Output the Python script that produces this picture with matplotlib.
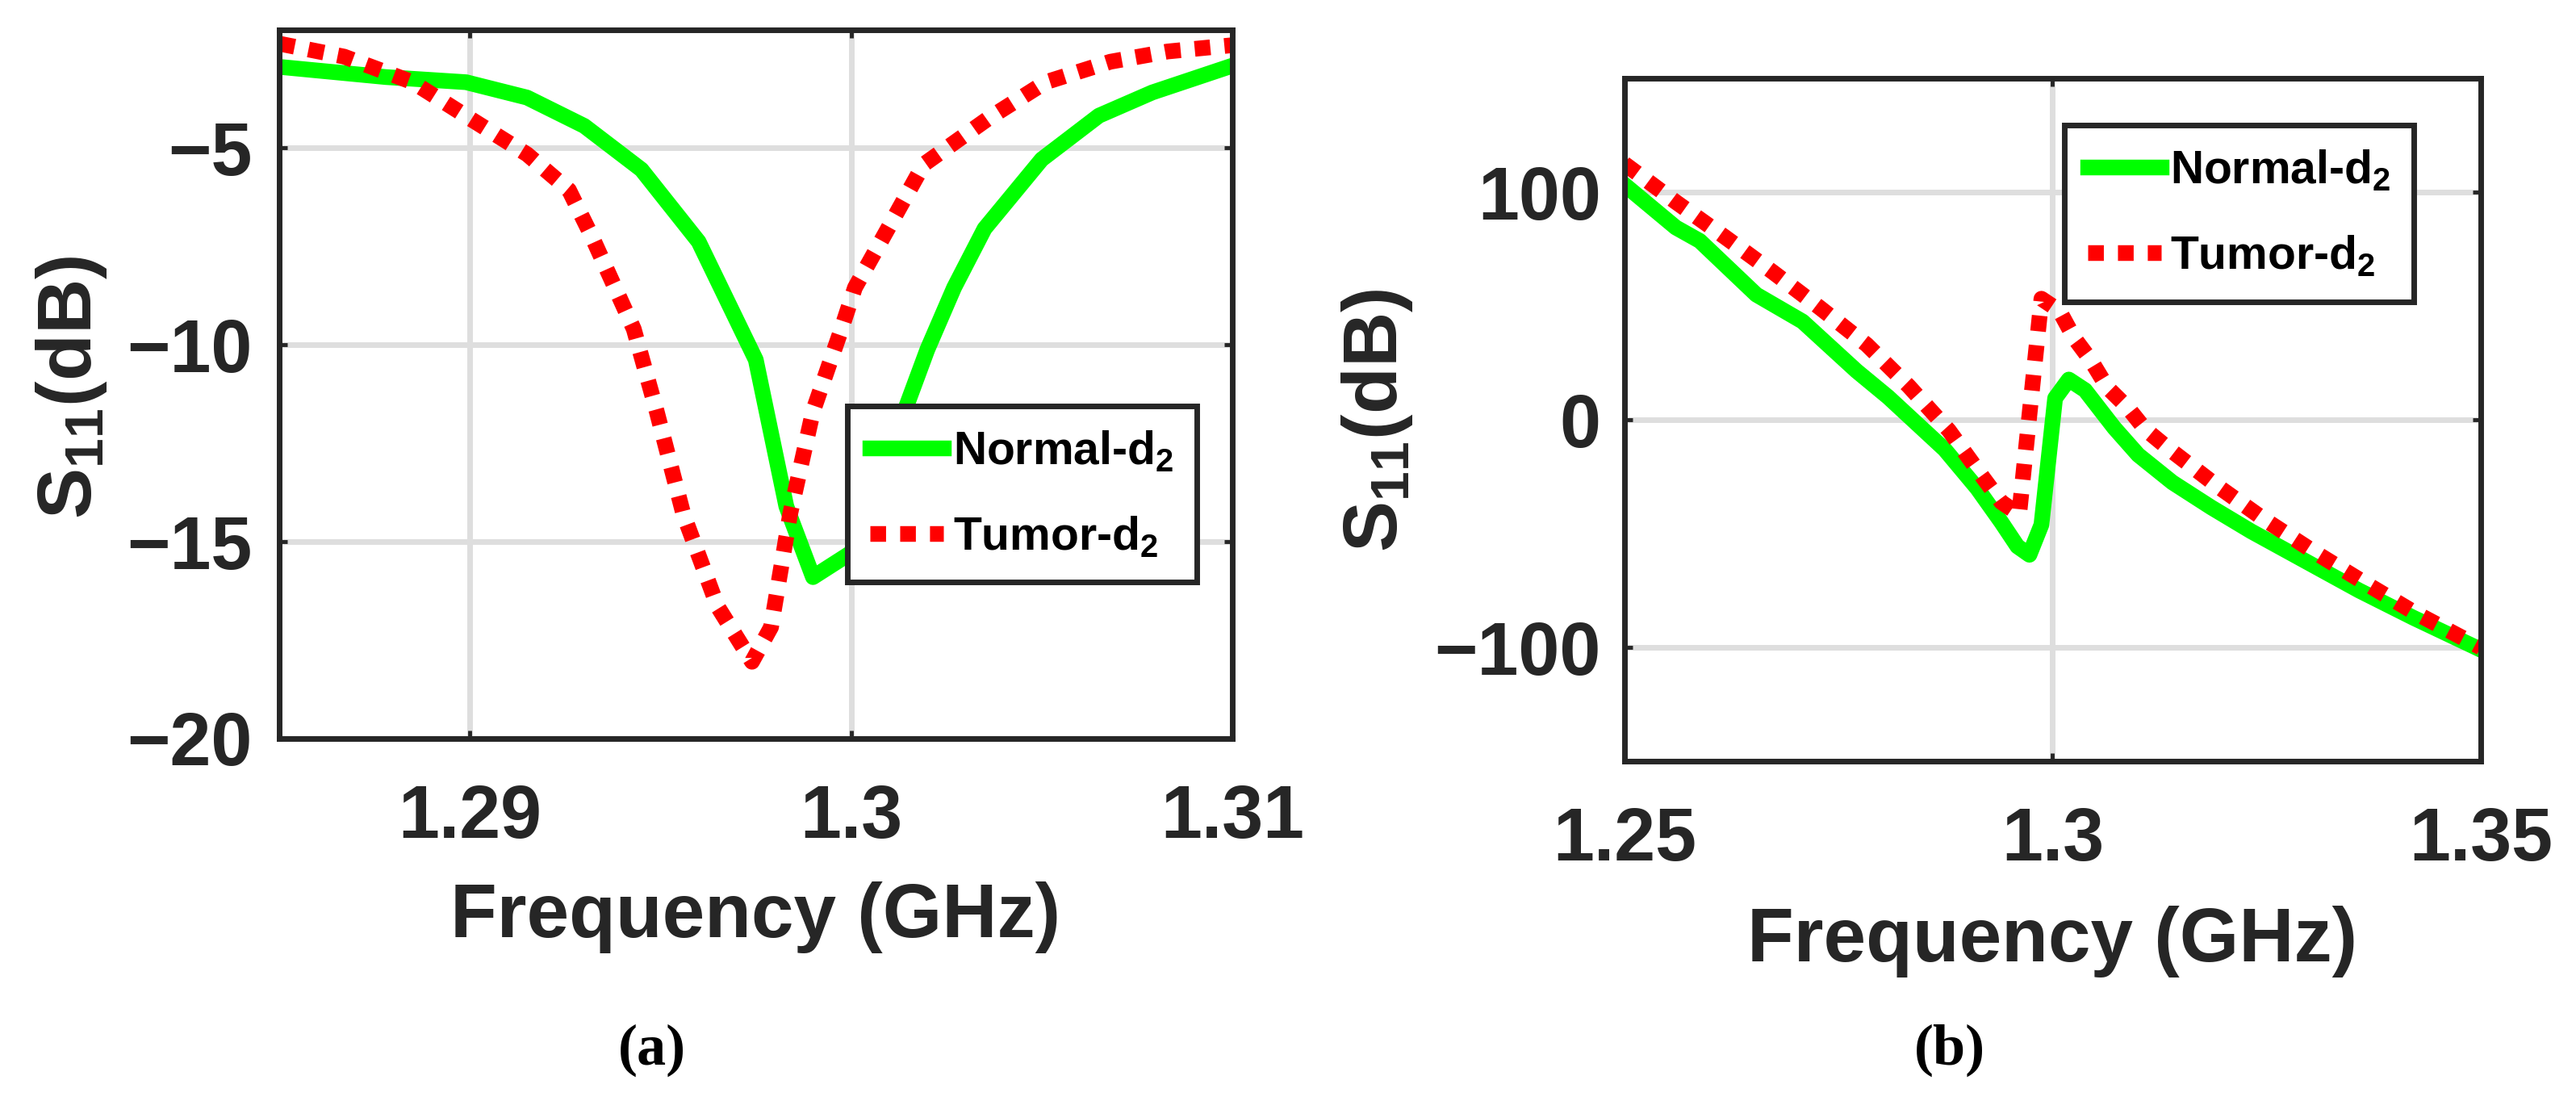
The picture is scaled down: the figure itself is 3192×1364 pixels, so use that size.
import matplotlib
matplotlib.use("Agg")
import matplotlib.pyplot as plt

# (a) zoom around the resonance
f_a_normal = [1.2850, 1.2878, 1.2899, 1.2915, 1.2930, 1.2945, 1.2960, 1.2975, 1.2983,
              1.2990, 1.3000, 1.3014, 1.3020, 1.3027, 1.3035, 1.3050, 1.3065, 1.3079, 1.3100]
s_a_normal = [-2.94, -3.20, -3.33, -3.72, -4.44, -5.55, -7.38, -10.38, -14.10,
              -15.90, -15.28, -11.69, -10.12, -8.55, -7.05, -5.29, -4.18, -3.59, -2.91]

f_a_tumor = [1.2850, 1.2867, 1.2885, 1.2900, 1.2915, 1.2926, 1.2932, 1.2943, 1.2949, 1.2956,
             1.2965, 1.2974, 1.2979, 1.2984, 1.2990, 1.2997, 1.3001, 1.3010, 1.3019, 1.3036,
             1.3051, 1.3068, 1.3083, 1.3100]
s_a_tumor = [-2.35, -2.68, -3.33, -4.25, -5.16, -6.07, -7.25, -9.60, -11.69, -14.30,
             -16.65, -18.05, -17.17, -14.30, -11.69, -9.73, -8.55, -6.99, -5.42, -4.25,
             -3.33, -2.81, -2.55, -2.39]

# (b) wide band
f_b_normal = [1.2500, 1.2560, 1.2588, 1.2654, 1.2708, 1.2771, 1.2808, 1.2874, 1.2912, 1.2940,
              1.2959, 1.2973, 1.2987, 1.3003, 1.3019, 1.3038, 1.3072, 1.3100, 1.3140, 1.3185,
              1.3232, 1.3295, 1.3358, 1.3421, 1.3500]
s_b_normal = [103.3, 84.5, 78.6, 55.0, 43.2, 21.5, 10.0, -13.0, -30.1, -44.9,
              -55.6, -59.3, -46.1, 9.5, 17.7, 13.0, -3.5, -15.4, -27.5, -38.4,
              -49.0, -62.0, -75.0, -86.9, -101.0]

f_b_tumor = [1.2500, 1.2560, 1.2617, 1.2673, 1.2728, 1.2783, 1.2832, 1.2879, 1.2920, 1.2940,
             1.2961, 1.2987, 1.3008, 1.3025, 1.3045, 1.3064, 1.3088, 1.3108, 1.3136, 1.3191,
             1.3247, 1.3305, 1.3364, 1.3422, 1.3500]
s_b_tumor = [112.5, 95.7, 80.4, 65.0, 49.3, 33.0, 14.8, -4.7, -26.0, -36.1,
             -41.5, 53.2, 47.9, 36.1, 26.0, 14.2, 5.3, -4.1, -12.8, -28.7,
             -43.7, -57.9, -71.5, -84.5, -100.0]

xticks_a = [1.29, 1.3, 1.31]
xticks_b = [1.25, 1.3, 1.35]
yticks_a = [-20, -15, -10, -5]
yticks_b = [-100, 0, 100]
legend_labels = ["Normal-d$_2$", "Tumor-d$_2$"]

plt.rcParams["font.family"] = ["Liberation Sans", "DejaVu Sans"]
plt.rcParams["font.weight"] = "bold"
plt.rcParams["axes.labelweight"] = "bold"
plt.rcParams["mathtext.fontset"] = "custom"
plt.rcParams["mathtext.rm"] = "Liberation Sans:bold"
plt.rcParams["mathtext.it"] = "Liberation Sans:bold"
plt.rcParams["mathtext.bf"] = "Liberation Sans:bold"

dark = "#262626"

fig = plt.figure(figsize=(31.92, 13.64), dpi=100)
ax_a = fig.add_axes([0.1084, 0.3292, 0.3700, 0.6437])
ax_b = fig.add_axes([0.6306, 0.3086, 0.3324, 0.6202])


def draw(ax, fn, sn, ft, st, leg_xy, ypad):
    ax.plot(fn, sn, color="#00ff00", linewidth=14, solid_joinstyle="round",
            label=legend_labels[0])
    ax.plot(ft, st, color="#ff0000", linewidth=14, linestyle=(0, (1, 0.9)),
            dash_capstyle="butt", label=legend_labels[1])
    ax.set_axisbelow(True)
    ax.grid(True, color="#dedede", linewidth=5)
    for sp in ax.spines.values():
        sp.set_linewidth(5)
        sp.set_color(dark)
    ax.tick_params(axis="both", direction="in", length=7, width=3.5, top=True, right=True,
                   color=dark, labelcolor=dark, labelsize=66)
    ax.tick_params(axis="x", pad=40)
    ax.tick_params(axis="y", pad=ypad)
    leg = ax.legend(loc="upper left", bbox_to_anchor=leg_xy, borderaxespad=0,
                    fancybox=False, framealpha=1, fontsize=41, handlelength=1.6,
                    handletextpad=0.2, borderpad=0.5, labelspacing=0.9)
    leg.get_frame().set_linewidth(5)
    leg.get_frame().set_edgecolor(dark)
    for t in leg.get_texts():
        t.set_color("black")


draw(ax_a, f_a_normal, s_a_normal, f_a_tumor, s_a_tumor, (0.596, 0.469), 24)
ax_a.set_xlim(1.285, 1.31)
ax_a.set_ylim(-20, -2)
ax_a.set_xticks(xticks_a)
ax_a.set_xticklabels(["1.29", "1.3", "1.31"])
ax_a.set_yticks(yticks_a)
ax_a.set_xlabel("Frequency (GHz)", fontsize=68, fontweight="bold", color=dark)
ax_a.xaxis.set_label_coords(0.5, -0.2016)
ax_a.set_ylabel("S$_{11}$(dB)", fontsize=68, fontweight="bold", color=dark, va="center")
ax_a.yaxis.set_label_coords(-0.218, 0.495)

draw(ax_b, f_b_normal, s_b_normal, f_b_tumor, s_b_tumor, (0.514, 0.931), 21)
ax_b.set_xlim(1.25, 1.35)
ax_b.set_ylim(-150, 150)
ax_b.set_xticks(xticks_b)
ax_b.set_xticklabels(["1.25", "1.3", "1.35"])
ax_b.set_yticks(yticks_b)
ax_b.set_xlabel("Frequency (GHz)", fontsize=68, fontweight="bold", color=dark)
ax_b.xaxis.set_label_coords(0.5, -0.2116)
ax_b.set_ylabel("S$_{11}$(dB)", fontsize=68, fontweight="bold", color=dark, va="center")
ax_b.yaxis.set_label_coords(-0.289, 0.499)

fig.text(0.253, 0.0462, "(a)", family="Liberation Serif", fontweight="bold",
         fontsize=52, ha="center", va="center", color="black")
fig.text(0.757, 0.0462, "(b)", family="Liberation Serif", fontweight="bold",
         fontsize=52, ha="center", va="center", color="black")

fig.savefig("out.png", dpi=100)
